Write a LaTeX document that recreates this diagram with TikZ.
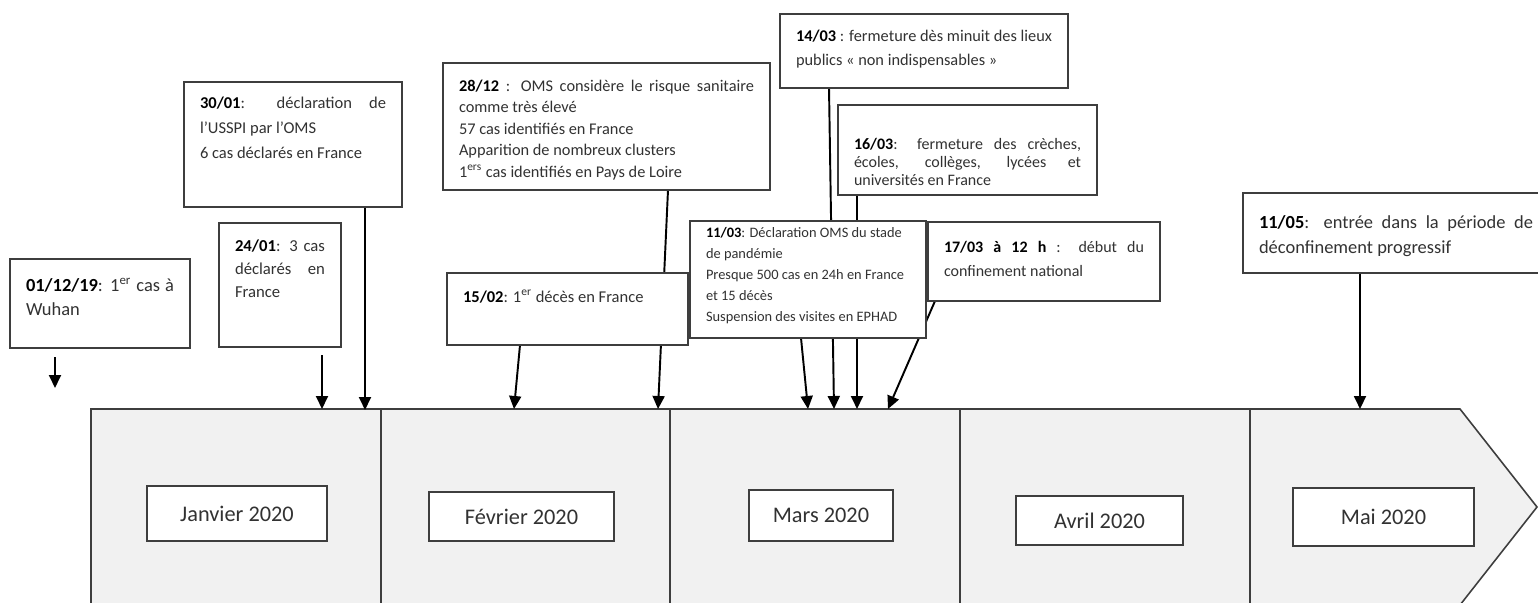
\documentclass[tikz,border=0pt]{standalone}
\usepackage{fontspec}
\setmainfont{Carlito}
\usetikzlibrary{arrows.meta, backgrounds}
\definecolor{linegrey}{RGB}{62,62,62}
\definecolor{bandgrey}{RGB}{241,241,241}
\definecolor{txtgrey}{RGB}{50,50,50}
\newdimen\pxu \pxu=0.2mm
\newdimen\evxsep \evxsep=3.2mm
% box of W x H pixels, text starts #1 below the top
\newcommand{\evbox}[4][3mm]{\parbox[c][#3\pxu][t]{\dimexpr #2\pxu-2\evxsep\relax}{\vspace*{#1}#4}}
\newcommand{\evdate}[1]{\textbf{\color{black}#1}}
\hyphenpenalty=10000
\tikzset{
  event/.style={rectangle, draw=linegrey, fill=white, line width=1.1pt, inner xsep=\evxsep, inner ysep=0pt, outer sep=0pt, anchor=north west, text=txtgrey, font=\fontsize{9.3}{12.5}\selectfont},
  month/.style={rectangle, draw=linegrey, fill=white, line width=1.1pt, inner sep=0pt, outer sep=0pt, text=txtgrey, font=\fontsize{12.7}{15}\selectfont},
  band/.style={draw=linegrey, fill=bandgrey, line width=0.9pt},
  divider/.style={draw=linegrey, line width=0.9pt},
  arrow/.style={-{Triangle[length=2.6mm, width=2.4mm]}, line width=1.1pt, black},
}

\begin{document}
\begin{tikzpicture}[x=0.2mm, y=-0.2mm]
\useasboundingbox (0,0) rectangle (1538,603);

% events
\node[event, font=\fontsize{10.5}{14}\selectfont] (e1) at (10,259) {\evbox[3.8mm]{180}{89}{\evdate{01/12/19}: 1\textsuperscript{er} cas à\linebreak Wuhan}};
\node[event, font=\fontsize{9.5}{13}\selectfont] (e2) at (219,223) {\evbox[3.4mm]{122}{124}{\evdate{24/01}: 3 cas\linebreak déclarés en\linebreak France}};
\node[event, font=\fontsize{9.4}{14.2}\selectfont] (e3) at (184,82) {\evbox{218}{125}{\evdate{30/01}: déclaration de\linebreak l’USSPI par l’OMS\\ 6 cas déclarés en France}};
\node[event, font=\fontsize{9.4}{12.5}\selectfont] (e4) at (447,273) {\evbox[3.4mm]{241}{72}{\evdate{15/02}: 1\textsuperscript{er} décès en France}};
\node[event, font=\fontsize{9.3}{12.2}\selectfont] (e5) at (443,63) {\evbox[3.4mm]{327}{127}{\evdate{28/12} : OMS considère le risque sanitaire\linebreak comme très élevé\\ 57 cas identifiés en France\\ Apparition de nombreux clusters\\ 1\textsuperscript{ers} cas identifiés en Pays de Loire}};
\node[event, font=\fontsize{8.2}{12}\selectfont] (e6) at (690,221) {\evbox[1.3mm]{236}{117}{\evdate{11/03}: Déclaration OMS du stade\\ de pandémie\\ Presque 500 cas en 24h en France\\ et 15 décès\\ Suspension des visites en EPHAD}};
\node[event, font=\fontsize{9.3}{13.6}\selectfont] (e7) at (780,14) {\evbox[3.2mm]{288}{74}{\evdate{14/03} : fermeture dès minuit des lieux\linebreak publics « non indispensables »}};
\node[event, font=\fontsize{9.1}{10.2}\selectfont] (e8) at (838,105) {\evbox[6.6mm]{259}{90}{\evdate{16/03}: fermeture des crèches,\linebreak écoles, collèges, lycées et\linebreak universités en France}};
\node[event, font=\fontsize{9.1}{13.6}\selectfont] (e9) at (928,222) {\evbox[3.8mm]{232}{79}{\evdate{17/03 à 12 h} : début du\linebreak confinement national}};
\node[event, font=\fontsize{10.5}{14.2}\selectfont] (e10) at (1243,193) {\evbox[4.6mm]{306}{80}{\evdate{11/05}: entrée dans la période de\linebreak déconfinement progressif}};

% months
\node[month, minimum width=36mm, minimum height=11mm] (jan) at (237,513.5) {Janvier 2020};
\node[month, minimum width=37mm, minimum height=9.8mm] (feb) at (521.5,516.5) {Février 2020};
\node[month, minimum width=28.8mm, minimum height=10.2mm] (mar) at (821,515.5) {Mars 2020};
\node[month, minimum width=33.4mm, minimum height=9.8mm] (apr) at (1099.5,520.5) {Avril 2020};
\node[month, minimum width=36.2mm, minimum height=11.6mm] (may) at (1383.5,517) {Mai 2020};

% arrow ends on the band
\coordinate (w1) at (55,388);
\coordinate (t2) at (322,409);
\coordinate (t3) at (365,410);
\coordinate (t4) at (514,409);
\coordinate (t5) at (658,409);
\coordinate (t6) at (808,409);
\coordinate (t7) at (834,409);
\coordinate (t8) at (857,409);
\coordinate (t9) at (888,409);
\coordinate (t10) at (1360,409);

\begin{scope}[on background layer]
% timeline band
\draw[band] (91,409) -- (1460,409) -- (1537,507) -- (1460,605) -- (91,605) -- cycle;
\foreach \x in {381,670,960,1250}
  \draw[divider] (\x,409) -- (\x,605);
% connectors
\draw[arrow] ([shift={(-45,9)}]e1.south) -- (w1);
\draw[arrow] ([shift={(42,8)}]e2.south) -- (t2);
\draw[arrow] (e3.south -| t3) -- (t3);
\draw[arrow] ([shift={(-47.5,0)}]e4.south) -- (t4);
\draw[arrow] ([shift={(61.5,0)}]e5.south) -- (t5);
\draw[arrow] ([shift={(-7,0)}]e6.south) -- (t6);
\draw[arrow] ([shift={(-95,0)}]e7.south) -- (t7);
\draw[arrow] ([shift={(-110.5,0)}]e8.south) -- (t8);
\draw[arrow] ([shift={(-109,0)}]e9.south) -- (t9);
\draw[arrow] ([shift={(-36,0)}]e10.south) -- (t10);
\end{scope}
\end{tikzpicture}
\end{document}
